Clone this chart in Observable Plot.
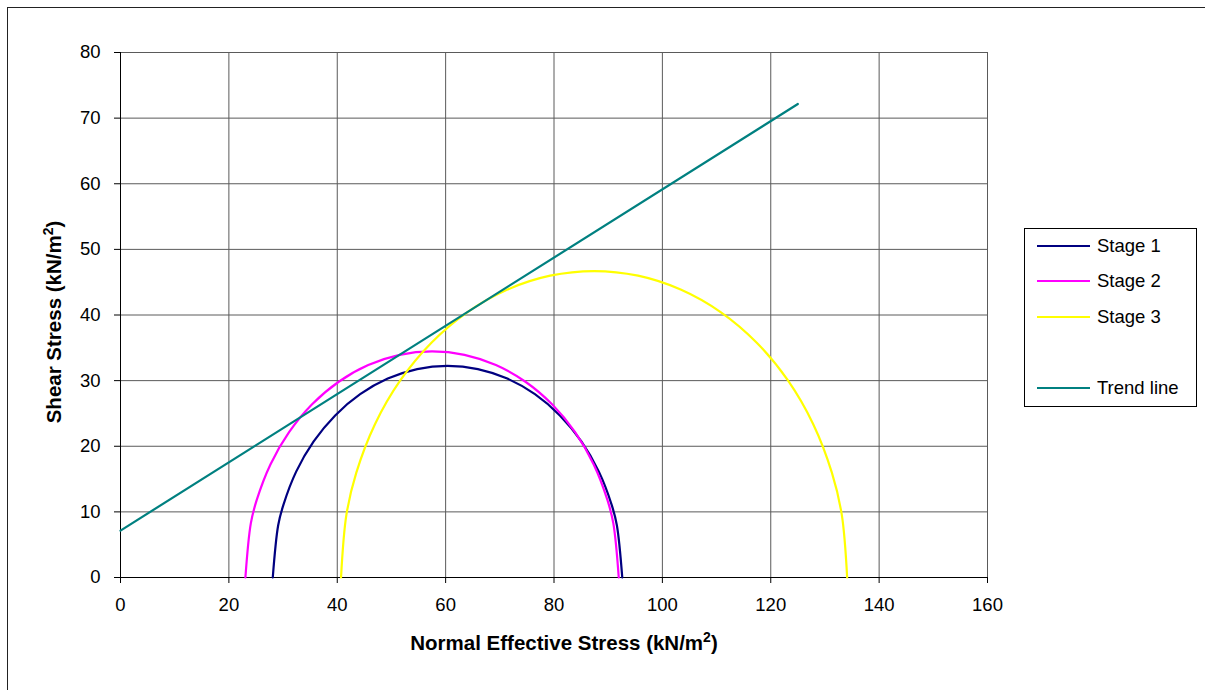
<!DOCTYPE html>
<html>
<head>
<meta charset="utf-8">
<script src="https://cdn.jsdelivr.net/npm/d3@7"></script>
<script src="https://cdn.jsdelivr.net/npm/@observablehq/plot@0.6"></script>
<style>
  html, body { margin: 0; padding: 0; background: #fff; overflow: hidden; }
  body { width: 1205px; height: 690px; position: relative; font-family: "Liberation Sans", Arial, sans-serif; color: #000; }
  #chart { position: absolute; left: 0; top: 0; }
  .frame { position: absolute; left: 7px; top: 7px; width: 1400px; height: 900px; border: 1px solid #222; box-sizing: border-box; }
  .title { position: absolute; font-weight: bold; font-size: 20.5px; white-space: nowrap; transform: translate(-50%, -50%); }
  .title sup { font-size: 0.68em; vertical-align: 0.55em; line-height: 0; }
  #ytitle { transform: translate(-50%, -50%) rotate(-90deg); }
  #legend { position: absolute; left: 1024px; top: 228px; width: 173px; height: 179px; border: 1px solid #000; box-sizing: border-box; background: #fff; }
  .item { position: absolute; left: 12px; height: 20px; display: flex; align-items: center; font-size: 18.5px; white-space: nowrap; transform: translateY(-50%); }
  .swatch { width: 53px; height: 2px; margin-right: 7px; }
</style>
</head>
<body>
<div class="frame"></div>
<div id="chart"></div>
<div class="title" id="xtitle" style="left:564px; top:643px;">Normal Effective Stress (kN/m<sup>2</sup>)</div>
<div class="title" id="ytitle" style="left:54px; top:322px;">Shear Stress (kN/m<sup>2</sup>)</div>
<div id="legend"></div>
<script>
// ---- data ----
const xTicks = [0, 20, 40, 60, 80, 100, 120, 140, 160];
const yTicks = [0, 10, 20, 30, 40, 50, 60, 70, 80];

const seriesNames = ["Stage 1", "Stage 2", "Stage 3", "Trend line"];
const seriesColors = ["#000080", "#FF00FF", "#FFFF00", "#008080"];

const stage1Sigma = [28.10, 29.10, 30.05, 32.42, 35.65, 39.62, 44.23, 49.32, 54.75, 60.35, 65.95, 71.38, 76.48, 81.08, 85.05, 88.28, 90.66, 91.60, 92.60];
const stage1Tau   = [0, 7.97, 11.03, 16.13, 20.73, 24.70, 27.93, 30.31, 31.76, 32.25, 31.76, 30.31, 27.93, 24.70, 20.73, 16.13, 11.03, 7.97, 0];

const stage2Sigma = [23.05, 24.05, 25.13, 27.67, 31.11, 35.36, 40.28, 45.72, 51.52, 57.50, 63.48, 69.28, 74.73, 79.64, 83.89, 87.33, 89.87, 90.95, 91.95];
const stage2Tau   = [0, 8.24, 11.78, 17.23, 22.14, 26.39, 29.83, 32.37, 33.93, 34.45, 33.93, 32.37, 29.83, 26.39, 22.14, 17.23, 11.78, 8.24, 0];

const stage3Sigma = [40.70, 41.70, 43.52, 46.96, 51.63, 57.38, 64.05, 71.43, 79.29, 87.40, 95.51, 103.37, 110.75, 117.42, 123.17, 127.84, 131.28, 133.10, 134.10];
const stage3Tau   = [0, 9.61, 15.97, 23.35, 30.02, 35.77, 40.44, 43.88, 45.99, 46.70, 45.99, 43.88, 40.44, 35.77, 30.02, 23.35, 15.97, 9.61, 0];

const trendSigma = [0, 125];
const trendTau   = [7.15, 72.15];

// ---- tables ----
const toRows = (xs, ys) => xs.map((x, i) => ({x, y: ys[i]}));
const stage1 = toRows(stage1Sigma, stage1Tau);
const stage2 = toRows(stage2Sigma, stage2Tau);
const stage3 = toRows(stage3Sigma, stage3Tau);
const trend  = toRows(trendSigma, trendTau);

const gridColor = "#5a5a5a";

const chart = Plot.plot({
  width: 1205,
  height: 690,
  marginLeft: 120,
  marginRight: 218,
  marginTop: 52,
  marginBottom: 113,
  style: { fontFamily: "'Liberation Sans', Arial, sans-serif", fontSize: "18.5px", color: "#000", background: "transparent", overflow: "visible" },
  x: { domain: [0, 160], ticks: xTicks },
  y: { domain: [0, 80], ticks: yTicks },
  marks: [
    Plot.gridX(xTicks, { stroke: gridColor, strokeOpacity: 1, strokeWidth: 1 }),
    Plot.gridY(yTicks, { stroke: gridColor, strokeOpacity: 1, strokeWidth: 1 }),
    Plot.axisX({ ticks: xTicks, tickSize: 6, tickPadding: 14, label: null, stroke: "#000" }),
    Plot.axisY({ ticks: yTicks, tickSize: 6, tickPadding: 14, label: null, stroke: "#000" }),
    Plot.ruleX([0], { stroke: "#000", strokeWidth: 1 }),
    Plot.ruleY([0], { stroke: "#000", strokeWidth: 1 }),
    Plot.line(stage1, { x: "x", y: "y", stroke: seriesColors[0], strokeWidth: 2.2, curve: "catmull-rom" }),
    Plot.line(stage2, { x: "x", y: "y", stroke: seriesColors[1], strokeWidth: 2.2, curve: "catmull-rom" }),
    Plot.line(stage3, { x: "x", y: "y", stroke: seriesColors[2], strokeWidth: 2.2, curve: "catmull-rom" }),
    Plot.line(trend,  { x: "x", y: "y", stroke: seriesColors[3], strokeWidth: 2.2 })
  ]
});
document.getElementById("chart").appendChild(chart);

// ---- legend ----
const legend = document.getElementById("legend");
const slots = [0, 1, 2, 4]; // blank slot before "Trend line"
seriesNames.forEach((name, i) => {
  const item = document.createElement("div");
  item.className = "item";
  item.style.top = (17 + slots[i] * 35.4) + "px";
  const sw = document.createElement("span");
  sw.className = "swatch";
  sw.style.background = seriesColors[i];
  const label = document.createElement("span");
  label.textContent = name;
  item.appendChild(sw);
  item.appendChild(label);
  legend.appendChild(item);
});
</script>
</body>
</html>
